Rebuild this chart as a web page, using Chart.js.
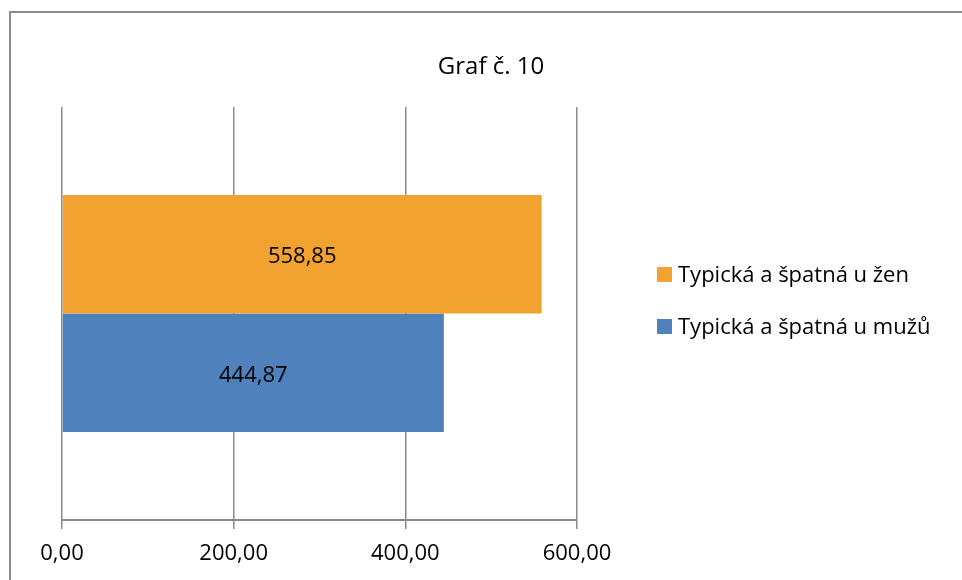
<!DOCTYPE html>
<html>
<head>
<meta charset="utf-8">
<script src="https://cdn.jsdelivr.net/npm/chart.js@4"></script>
<style>
  html, body { margin: 0; padding: 0; background: #ffffff; }
  #wrap { width: 962px; height: 580px; position: relative; }
</style>
</head>
<body>
<div id="wrap"><canvas id="c" width="962" height="580"></canvas></div>
<script>
const chartTitle = 'Graf č. 10';
const categories = [''];
const seriesNames = ['Typická a špatná u žen', 'Typická a špatná u mužů'];
const womenValues = [558.85];
const menValues = [444.87];
const xTicks = [0, 200, 400, 600];
const seriesColors = ['#F2A22E', '#4F81BD'];

const FONT = '"Open Sans", Lato, sans-serif';
const fmt = v => v.toFixed(2).replace('.', ',');

// frame, title, legend and value labels
const decorations = {
  id: 'decorations',
  beforeDraw(chart) {
    const ctx = chart.ctx;
    ctx.save();
    ctx.fillStyle = '#ffffff';
    ctx.fillRect(0, 0, chart.width, chart.height);
    ctx.strokeStyle = '#8c8c8c';
    ctx.lineWidth = 2;
    ctx.strokeRect(10, 12, 1000, 1000);
    ctx.restore();
  },
  afterDatasetsDraw(chart) {
    const ctx = chart.ctx;
    ctx.save();
    // value labels centred in each bar
    ctx.font = '22px ' + FONT;
    ctx.fillStyle = '#000000';
    ctx.textAlign = 'center';
    ctx.textBaseline = 'alphabetic';
    chart.data.datasets.forEach((ds, i) => {
      chart.getDatasetMeta(i).data.forEach((bar, j) => {
        const x = (bar.x + bar.base) / 2;
        ctx.fillText(fmt(ds.data[j]), x, bar.y + 9);
      });
    });
    // legend
    ctx.textAlign = 'left';
    chart.data.datasets.forEach((ds, i) => {
      const y = 282 + i * 52;
      ctx.fillStyle = ds.backgroundColor;
      ctx.fillRect(657, y - 15, 15, 15);
      ctx.fillStyle = '#000000';
      ctx.fillText(ds.label, 678, y);
    });
    // title
    ctx.textAlign = 'center';
    ctx.font = '24px ' + FONT;
    ctx.fillText(chartTitle, 491, 74);
    ctx.restore();
  }
};

new Chart(document.getElementById('c'), {
  type: 'bar',
  data: {
    labels: categories,
    datasets: [
      { label: seriesNames[0], data: womenValues, backgroundColor: seriesColors[0] },
      { label: seriesNames[1], data: menValues, backgroundColor: seriesColors[1] }
    ]
  },
  options: {
    indexAxis: 'y',
    responsive: false,
    animation: false,
    devicePixelRatio: 1,
    categoryPercentage: 0.574,
    barPercentage: 1,
    layout: { padding: { left: 62, right: 385, top: 107, bottom: 0 } },
    plugins: {
      legend: { display: false },
      title: { display: false },
      tooltip: { enabled: false }
    },
    scales: {
      x: {
        min: 0,
        max: 600,
        afterBuildTicks(scale) { scale.ticks = xTicks.map(v => ({ value: v })); },
        afterFit(scale) { scale.height = 60; },
        grid: { color: '#8a8a8a', lineWidth: 1.5, tickLength: 9, drawTicks: true },
        border: { color: '#8a8a8a', width: 2 },
        ticks: {
          color: '#000000',
          font: { family: FONT, size: 22 },
          padding: 12,
          maxRotation: 0,
          callback: v => fmt(v)
        }
      },
      y: {
        display: false
      }
    }
  },
  plugins: [decorations]
});
</script>
</body>
</html>
